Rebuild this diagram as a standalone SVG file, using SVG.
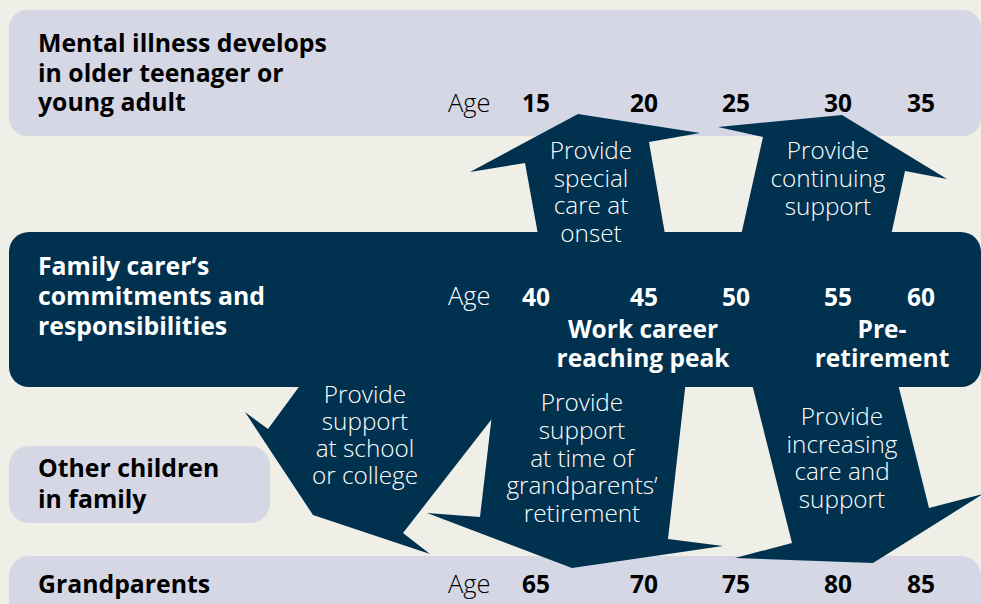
<svg xmlns="http://www.w3.org/2000/svg" width="981" height="604" viewBox="0 0 981 604">
<style>
.bg{fill:#efeee7}
.lt{fill:#d5d7e5}
.dk{fill:#00314f}
.h{font-family:"Open Sans","Liberation Sans",sans-serif;font-weight:700;font-size:24.8px}
.hb{fill:#000}
.hw{fill:#fff}
.num{font-family:"Open Sans","Liberation Sans",sans-serif;font-weight:700;font-size:24.5px;text-anchor:middle}
.age{font-family:"Open Sans","Liberation Sans",sans-serif;font-weight:300;font-size:25.5px}
.lab{font-family:"Open Sans","Liberation Sans",sans-serif;font-weight:300;font-size:24.3px;fill:#fff;text-anchor:middle}
</style>
<rect class="bg" x="0" y="0" width="981" height="604"/>
<g id="node-young-adult">
<rect class="lt" x="9" y="10" width="972" height="126" rx="18"/>
<text class="h hb" x="38" y="52">Mental illness develops</text>
<text class="h hb" x="38" y="82">in older teenager or</text>
<text class="h hb" x="38" y="111">young adult</text>
<text class="age" x="448" y="112" fill="#000">Age</text>
<g class="num" fill="#000"><text x="536" y="112">15</text><text x="644" y="112">20</text><text x="736" y="112">25</text><text x="838" y="112">30</text><text x="921" y="112">35</text></g>
</g>
<g id="node-family-carer">
<rect class="dk" x="9" y="232" width="972" height="155" rx="20"/>
<text class="h hw" x="38" y="275">Family carer’s</text>
<text class="h hw" x="38" y="305">commitments and</text>
<text class="h hw" x="38" y="335">responsibilities</text>
<text class="age" x="448" y="305" fill="#fff">Age</text>
<g class="num" fill="#fff"><text x="536" y="306">40</text><text x="644" y="306">45</text><text x="736" y="306">50</text><text x="838" y="306">55</text><text x="921" y="306">60</text>
<text x="643" y="338">Work career</text><text x="643" y="367">reaching peak</text>
<text x="882" y="338">Pre-</text><text x="882" y="367">retirement</text></g>
</g>
<g id="node-other-children">
<rect class="lt" x="9" y="446" width="261" height="77" rx="20"/>
<text class="h hb" x="38" y="477">Other children</text>
<text class="h hb" x="38" y="508">in family</text>
</g>
<g id="node-grandparents">
<rect class="lt" x="9" y="556" width="972" height="70" rx="20"/>
<text class="h hb" x="38" y="593">Grandparents</text>
<text class="age" x="448" y="593" fill="#000">Age</text>
<g class="num" fill="#000"><text x="536" y="593">65</text><text x="644" y="593">70</text><text x="736" y="593">75</text><text x="838" y="593">80</text><text x="921" y="593">85</text></g>
</g>
<g id="connectors">
<polygon class="dk" points="539,240 525,163 470,172 578,114 700,133 649,142 666,240"/>
<polygon class="dk" points="740,240 763,137 718,127 842,115 947,179 905,171 890,240"/>
<polygon class="dk" points="304,380 268,429 245,412 313,515 430,554 403,533 491,420 522,380"/>
<polygon class="dk" points="496,380 480,517 427,513 572,568 723,546 668,539 686,380"/>
<polygon class="dk" points="751,380 792,543 735,558 873,563 983,494 929,508 897,380"/>
<g class="lab">
<text x="591" y="159">Provide</text><text x="591" y="187">special</text><text x="591" y="214">care at</text><text x="591" y="242">onset</text>
<text x="828" y="159">Provide</text><text x="828" y="187">continuing</text><text x="828" y="215">support</text>
<text x="365" y="403">Provide</text><text x="365" y="430">support</text><text x="365" y="457">at school</text><text x="365" y="484">or college</text>
<text x="582" y="411">Provide</text><text x="582" y="439">support</text><text x="582" y="467">at time of</text><text x="582" y="494">grandparents’</text><text x="582" y="522">retirement</text>
<text x="842" y="425">Provide</text><text x="842" y="453">increasing</text><text x="842" y="480">care and</text><text x="842" y="508">support</text>
</g>
</g>
</svg>
